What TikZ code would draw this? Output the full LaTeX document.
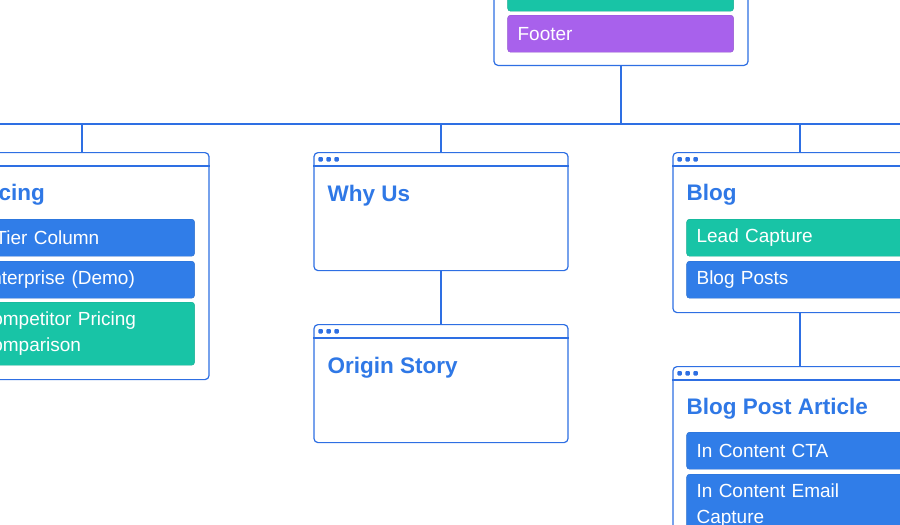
\documentclass[tikz,border=0pt]{standalone}
\usepackage{fontspec}
\setmainfont{Liberation Sans}
\usepackage{tikz}
\usetikzlibrary{positioning, calc}
\usepackage{xcolor}

\definecolor{mapline}{HTML}{2E6FE3}
\definecolor{maptitle}{HTML}{2F78E6}
\definecolor{itemblue}{HTML}{307DE8}
\definecolor{itemgreen}{HTML}{18C4A6}
\definecolor{itempurple}{HTML}{A861EC}

\tikzset{
  page/.style={draw=mapline, line width=1.2pt, rounded corners=4pt, fill=white, minimum width=254pt, inner sep=0pt},
  pagetitle/.style={anchor=base west, inner sep=0pt, text=maptitle, font=\fontsize{22.5}{27}\selectfont\bfseries},
  item/.style={draw=#1!88!black, line width=0.4pt, fill=#1, rounded corners=3pt, minimum width=226pt, minimum height=37pt, text width=206pt, inner xsep=10pt, inner ysep=0pt, anchor=north west, align=left, text=white, font=\fontsize{19}{26}\selectfont},
  link/.style={draw=mapline, line width=1.2pt},
}

% browser bar with three dots on top of a page
\newcommand{\pagebar}[1]{%
  \draw[link] ([yshift=-14pt]#1.north west) -- ([yshift=-14pt]#1.north east);
  \foreach \d in {0,1,2}
    \fill[mapline, rounded corners=1pt] ([xshift=5pt+\d*8pt, yshift=-5pt]#1.north west) rectangle ++(4.5,4.5);
}

\begin{document}
\begin{tikzpicture}[x=1pt, y=-1pt]
\useasboundingbox (0,0) rectangle (900,525);
\clip (0,0) rectangle (900,525);

% pages
\node[page, minimum height=250pt, anchor=south] (home) at (621,66) {};
\node[page, minimum height=227pt, anchor=north] (pricing) at (82,152) {};
\node[page, minimum height=118pt, anchor=north] (why) at (441,152) {};
\node[page, minimum height=118pt, anchor=north] (origin) at (441,324) {};
\node[page, minimum height=160pt, anchor=north] (blog) at (800,152) {};
\node[page, minimum height=200pt, anchor=north] (article) at (800,366) {};

% connectors
\coordinate (busW) at (-20,124);
\coordinate (busE) at (920,124);
\draw[link] (busW) -- (busE);
\draw[link] (home.south) -- (home.south |- busE);
\draw[link] (pricing.north) -- (pricing.north |- busE);
\draw[link] (why.north) -- (why.north |- busE);
\draw[link] (blog.north) -- (blog.north |- busE);
\draw[link] (why.south) -- (origin.north);
\draw[link] (blog.south) -- (article.north);

\pagebar{pricing}
\pagebar{why}
\pagebar{origin}
\pagebar{blog}
\pagebar{article}

% home (cut off at the top)
\node[item=itemgreen] (homeA) at ([xshift=14pt, yshift=92pt]home.south west) {};
\node[item=itempurple] (footer) at ([xshift=14pt, yshift=51pt]home.south west) {Footer};

% titles
\node[pagetitle] (pricingT) at ([xshift=14pt, yshift=-48pt]pricing.north west) {Pricing};
\node[pagetitle] (whyT) at ([xshift=14pt, yshift=-49pt]why.north west) {Why Us};
\node[pagetitle] (originT) at ([xshift=14pt, yshift=-49pt]origin.north west) {Origin Story};
\node[pagetitle] (blogT) at ([xshift=14pt, yshift=-48pt]blog.north west) {Blog};
\node[pagetitle] (articleT) at ([xshift=14pt, yshift=-48pt]article.north west) {Blog Post Article};

% sections
\node[item=itemblue] (tier) at ([xshift=14pt, yshift=-67pt]pricing.north west) {3 Tier Column};
\node[item=itemblue] (enterprise) at ([xshift=14pt, yshift=-109pt]pricing.north west) {Enterprise (Demo)};
\node[item=itemgreen, minimum height=63pt] (compare) at ([xshift=14pt, yshift=-150pt]pricing.north west) {Competitor Pricing\\Comparison};

\node[item=itemgreen] (lead) at ([xshift=14pt, yshift=-67pt]blog.north west) {Lead Capture};
\node[item=itemblue] (posts) at ([xshift=14pt, yshift=-109pt]blog.north west) {Blog Posts};

\node[item=itemblue] (cta) at ([xshift=14pt, yshift=-66pt]article.north west) {In Content CTA};
\node[item=itemblue, minimum height=63pt] (email) at ([xshift=14pt, yshift=-108pt]article.north west) {In Content Email\\Capture};
\end{tikzpicture}
\end{document}
